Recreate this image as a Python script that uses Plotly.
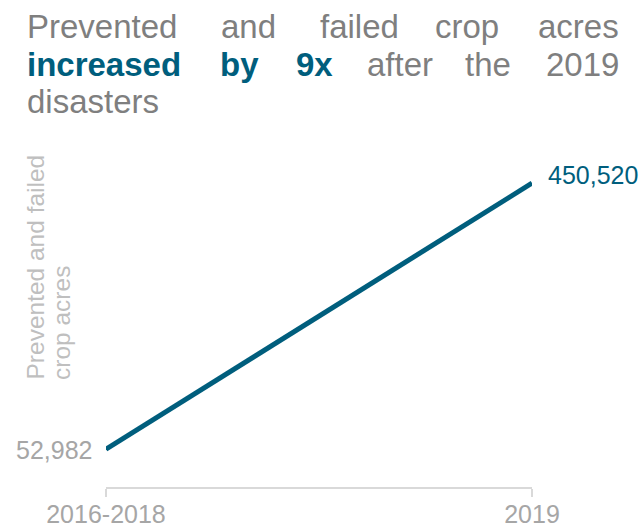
import plotly.graph_objects as go

periods = ["2016-2018", "2019"]
acres = [52982, 450520]

title_line1 = ["Prevented", "and", "failed", "crop", "acres"]
title_line2 = ["increased", "by", "9x", "after", "the", "2019"]
title_line3 = ["disasters"]
highlight_words = {"increased", "by", "9x"}
y_title_lines = ["Prevented and failed", "crop acres"]

W, H = 642, 529
ML, MR, MT, MB = 106, 110, 150, 42
PW, PH = W - ML - MR, H - MT - MB

GRAY_TITLE = "#7f7f7f"
TEAL = "#005e7d"
GRAY_LABEL = "#a6a6a6"
GRAY_YT = "#bfbfbf"
FONT = "Arial, Liberation Sans, sans-serif"


def px(x):
    return (x - ML) / PW


def py(y):
    return (H - MB - y) / PH


fig = go.Figure()
fig.add_trace(go.Scatter(
    x=[0, 1], y=acres, mode="lines",
    line=dict(color=TEAL, width=5),
    cliponaxis=False, hoverinfo="skip", showlegend=False,
))

annotations = []
# data labels
annotations.append(dict(x=0, y=acres[0], xref="x", yref="y", text=f"{acres[0]:,}",
                        showarrow=False, xanchor="right", yanchor="middle",
                        xshift=-12, yshift=-1,
                        font=dict(family=FONT, size=25, color=GRAY_LABEL)))
annotations.append(dict(x=1, y=acres[1], xref="x", yref="y", text=f"{acres[1]:,}",
                        showarrow=False, xanchor="left", yanchor="middle",
                        xshift=14, yshift=8,
                        font=dict(family=FONT, size=25, color=TEAL)))

# justified title, word by word
line_specs = [
    (title_line1, 27, [("left", 25), ("center", 248), ("center", 359), ("center", 467), ("right", 621)]),
    (title_line2, 64, [("left", 25), ("center", 239), ("center", 314), ("center", 400), ("center", 488), ("right", 621)]),
    (title_line3, 101, [("left", 25)]),
]
for words, yc, pos in line_specs:
    for w, (anc, xp) in zip(words, pos):
        hl = w in highlight_words
        annotations.append(dict(
            x=px(xp), y=py(yc), xref="paper", yref="paper",
            text=f"<b>{w}</b>" if hl else w, showarrow=False,
            xanchor=anc, yanchor="middle",
            font=dict(family=FONT, size=33, color=TEAL if hl else GRAY_TITLE),
        ))

# y axis title (two rotated lines)
for txt, xc in zip(y_title_lines, [35, 61]):
    annotations.append(dict(
        x=px(xc), y=py(382), xref="paper", yref="paper", text=txt,
        showarrow=False, textangle=-90, xanchor="center", yanchor="bottom",
        font=dict(family=FONT, size=24.5, color=GRAY_YT),
    ))

fig.update_layout(
    width=W, height=H,
    margin=dict(l=ML, r=MR, t=MT, b=MB, autoexpand=False),
    paper_bgcolor="white", plot_bgcolor="white",
    annotations=annotations,
    xaxis=dict(
        range=[0, 1], tickmode="array", tickvals=[0, 1], ticktext=periods,
        showline=True, linecolor="#d9d9d9", linewidth=2,
        ticks="outside", ticklen=8, tickwidth=2, tickcolor="#d9d9d9",
        ticklabelstandoff=-4,
        tickfont=dict(family=FONT, size=25, color=GRAY_LABEL),
        showgrid=False, zeroline=False, fixedrange=True, automargin=False,
    ),
    yaxis=dict(
        range=[-3600, 500000], visible=False, showgrid=False, zeroline=False,
        fixedrange=True, automargin=False,
    ),
    showlegend=False,
)

fig.write_html("out.html")
